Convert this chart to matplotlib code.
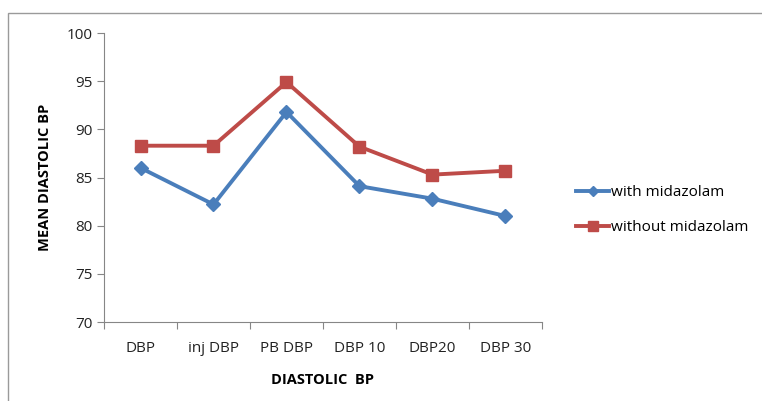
import matplotlib
matplotlib.use("Agg")
import matplotlib.pyplot as plt
from matplotlib.patches import Rectangle

categories = ["DBP", "inj DBP", "PB DBP", "DBP 10", "DBP20", "DBP 30"]
with_midazolam = [86.0, 82.2, 91.8, 84.1, 82.8, 81.0]
without_midazolam = [88.3, 88.3, 94.9, 88.2, 85.3, 85.7]

BLUE = "#4A7EBB"
RED = "#BE4B48"
AXIS = "#868686"
plt.rcParams["font.family"] = ["Open Sans", "DejaVu Sans"]

fig = plt.figure(figsize=(7.62, 4.01), dpi=100)
# chart frame, cut off at right and bottom
fig.patches.append(Rectangle((8 / 762, -0.05), 1.0, 1 - 13 / 401 + 0.05,
                             transform=fig.transFigure, fill=False,
                             edgecolor="#9a9a9a", linewidth=1.0))

ax = fig.add_axes([104 / 762, 1 - 322 / 401, 438 / 762, 289 / 401])
x = range(len(categories))
ax.plot(x, with_midazolam, color=BLUE, lw=2.8, marker="D", ms=7,
        label="with midazolam")
ax.plot(x, without_midazolam, color=RED, lw=2.8, marker="s", ms=9,
        label="without midazolam")

ax.set_xlim(-0.5, len(categories) - 0.5)
ax.set_ylim(70, 100)
ax.set_yticks(range(70, 101, 5))
ax.set_xticks([i - 0.5 for i in range(len(categories) + 1)], minor=False)
ax.set_xticklabels([])
ax.set_xticks(list(x), minor=True)
ax.set_xticklabels(categories, minor=True, fontsize=11, color="#222222")
ax.tick_params(axis="x", which="minor", length=0, pad=14)
ax.tick_params(axis="x", which="major", length=5, color=AXIS)
ax.tick_params(axis="y", length=5, color=AXIS, labelsize=11, labelcolor="#222222")
for side in ("top", "right"):
    ax.spines[side].set_visible(False)
for side in ("left", "bottom"):
    ax.spines[side].set_color(AXIS)

ax.set_xlabel("DIASTOLIC  BP", fontsize=10.5, fontweight="bold", labelpad=12)
ax.set_ylabel("MEAN DIASTOLIC BP", fontsize=10.5, fontweight="bold", labelpad=10)

fig.legend(loc="center left", bbox_to_anchor=(562 / 762, 1 - 210 / 401),
           frameon=False, fontsize=11, handlelength=2.2, handletextpad=0.1,
           labelspacing=1.3, markerscale=0.8)

fig.savefig("out.png", dpi=100)
